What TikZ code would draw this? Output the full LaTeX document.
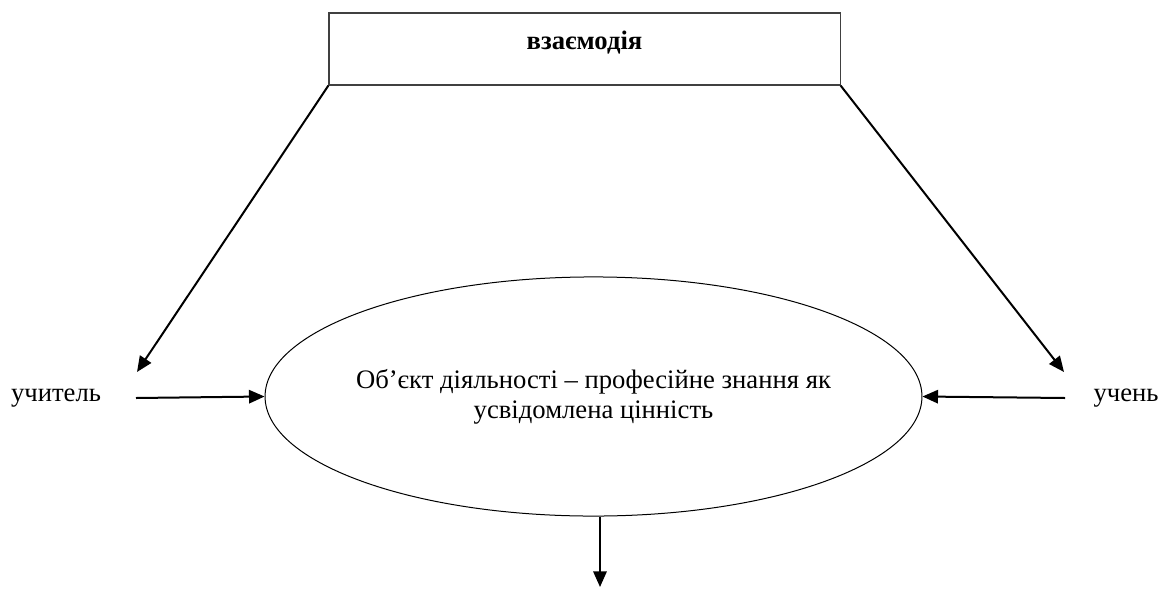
\documentclass[tikz,border=0pt]{standalone}
\usepackage{fontspec}
\setmainfont{Liberation Serif}
\usetikzlibrary{arrows.meta,shapes.geometric}
\begin{document}
\begin{tikzpicture}[x=0.45pt,y=-0.45pt,
  thickarrow/.style={line width=0.9pt,-{Triangle[length=7pt,width=6pt]}},
  topbox/.style={draw=black!75,line width=0.5pt,rectangle,inner sep=0pt,minimum width=230pt,text height=16.2pt,text depth=16.2pt,font=\fontsize{12}{14}\selectfont\bfseries},
  oval/.style={draw,ellipse,line width=0.45pt,inner xsep=-8pt,inner ysep=0pt,minimum width=295.6pt,minimum height=107.6pt,align=center,font=\fontsize{12}{13.5}\selectfont},
  side/.style={font=\fontsize{12}{14}\selectfont,inner sep=0pt}]
\useasboundingbox (0,0) rectangle (1169,588);
\node[topbox] (box) at (584.5,49) {взаємодія};
\node[oval] (ell) at (593.5,396.5) {Об’єкт діяльності – професійне знання як\\усвідомлена цінність};
\node[side] (teacher) at (56,398) {учитель};
\node[side] (pupil) at (1126,398) {учень};
\coordinate (lt) at (137,372);
\coordinate (rt) at (1064,372);
\coordinate (ls) at (136,398);
\coordinate (rs) at (1065,398);
\coordinate (bt) at (600,587);
\draw[thickarrow] (box.south west) -- (lt);
\draw[thickarrow] (box.south east) -- (rt);
\draw[thickarrow] (ls) -- (ell.west);
\draw[thickarrow] (rs) -- (ell.east);
\draw[thickarrow] (bt |- ell.south) -- (bt);
\end{tikzpicture}
\end{document}
